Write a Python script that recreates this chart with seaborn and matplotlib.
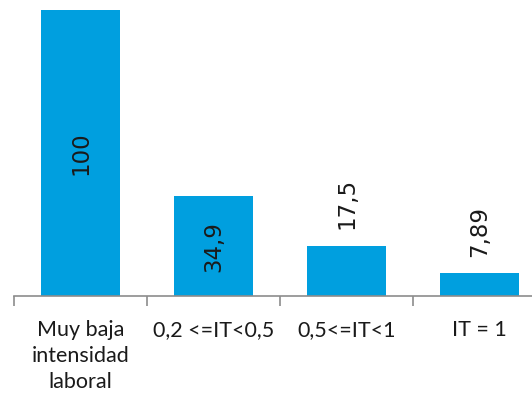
import pandas as pd
import matplotlib
matplotlib.use("Agg")
import matplotlib.pyplot as plt
import seaborn as sns
from matplotlib.ticker import FixedLocator

categories = ["Muy baja\nintensidad\nlaboral", "0,2 <=IT<0,5", "0,5<=IT<1", "IT = 1"]
values = [100, 34.9, 17.5, 7.89]
value_labels = ["100", "34,9", "17,5", "7,89"]
inside = [True, True, False, False]

sns.set_style("white")
plt.rcParams["font.family"] = ["Lato", "DejaVu Sans"]

df = pd.DataFrame({"cat": categories, "val": values})

fig = plt.figure(figsize=(5.32, 4.05), dpi=100)
ax = fig.add_axes([14 / 532, 109 / 405, 1.0, 286 / 405])
sns.barplot(data=df, x="cat", y="val", color="#009FDF", saturation=1,
            width=0.6, ax=ax)
for p in ax.patches:
    p.set_edgecolor("none")

ax.set_ylim(0, 100)
ax.set_xlim(-0.5, len(categories) - 0.5)
for s in ["left", "top", "right"]:
    ax.spines[s].set_visible(False)
ax.spines["bottom"].set_color("#8c8c8c")
ax.spines["bottom"].set_linewidth(1.2)
ax.set_yticks([])
ax.set_xlabel("")
ax.set_ylabel("")

ax.xaxis.set_minor_locator(FixedLocator([i - 0.5 for i in range(len(categories) + 1)]))
ax.tick_params(axis="x", which="major", length=0, pad=17, labelsize=15.5,
               labelcolor="#1a1a1a")
ax.tick_params(axis="x", which="minor", length=7, width=1.2, color="#8c8c8c",
               direction="out", bottom=True)
for lbl in ax.get_xticklabels():
    lbl.set_linespacing(1.38)
    lbl.set_verticalalignment("top")

cont = ax.containers[0]
lbl_font = dict(rotation=90, fontsize=16.5, color="#1a1a1a", fontfamily="DejaVu Sans")
ax.bar_label(cont, labels=[l if i else "" for l, i in zip(value_labels, inside)],
             label_type="center", **lbl_font)
ax.bar_label(cont, labels=["" if i else l for l, i in zip(value_labels, inside)],
             label_type="edge", padding=12, **lbl_font)

fig.savefig("out.png", dpi=100)
